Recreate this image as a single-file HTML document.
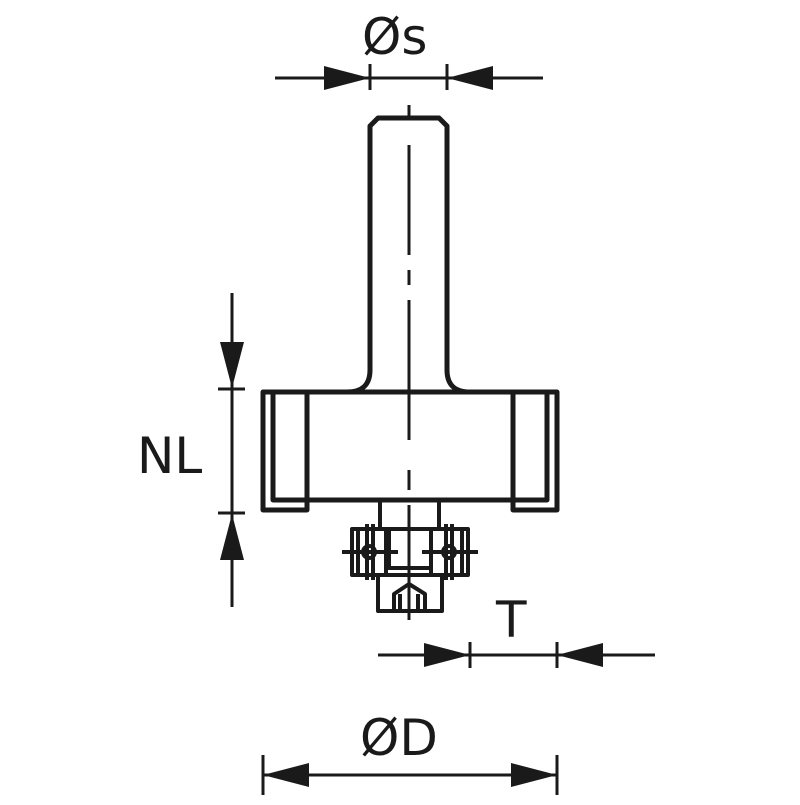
<!DOCTYPE html>
<html><head><style>html,body{margin:0;padding:0;background:#fff}</style></head>
<body>
<svg width="800" height="800" viewBox="0 0 800 800" xmlns="http://www.w3.org/2000/svg">
<g fill="none" stroke="#1a1a1a" stroke-width="5" stroke-linejoin="round">
<path d="M370,370 L370,126 L378,118 L439,118 L447,126 L447,370 Q447,392 470,392"/>
<path d="M370,370 Q370,392 347,392"/>
<path d="M307,392 L557,392 L557,510 L513,510 L513,392"/>
<path d="M263,392 L307,392 L307,510 L263,510 Z"/>
<path d="M273,392 L273,500 L547,500 L547,392"/>
<g stroke-width="4">
<path d="M380,500 L380,529 M439,500 L439,529"/>
<rect x="352" y="529" width="116" height="46"/>
<path d="M358,529 L358,575 M386,529 L386,575 M431,529 L431,575 M462,529 L462,575"/>
<path d="M389,529 L389,568 L431,568"/>
<path d="M342,552 L398,552 M422,552 L478,552"/>
<path d="M367,524 L367,580 M373,524 L373,580 M446,524 L446,580 M452,524 L452,580"/>
<circle cx="369" cy="552" r="6"/>
<circle cx="449" cy="552" r="6"/>
<rect x="378" y="575" width="64" height="36"/>
<path d="M394,610 L394,594 L409,584 L425,594 L425,610 M400,594 L400,610 M418,594 L418,610"/>
</g>
</g>
<g stroke="#1a1a1a" stroke-width="3">
<path d="M409,105 L409,120 M409,145 L409,255 M409,270 L409,285 M409,300 L409,440 M409,470 L409,490 M409,505 L409,620" />
</g>
<g stroke="#1a1a1a" stroke-width="3" fill="none">
<path d="M275,78 L543,78 M370,64 L370,90 M447,64 L447,90"/>
<path d="M232,293 L232,607 M218,389 L245,389 M218,513 L245,513"/>
<path d="M378,655 L655,655 M470,642 L470,668 M557,642 L557,668"/>
<path d="M263,775 L557,775 M263,755 L263,795 M557,755 L557,795"/>
</g>
<g fill="#1a1a1a">
<polygon points="370,78 324,66 324,90"/>
<polygon points="447,78 493,66 493,90"/>
<polygon points="232,388 220,342 244,342"/>
<polygon points="232,514 220,560 244,560"/>
<polygon points="470,655 424,643 424,667"/>
<polygon points="557,655 603,643 603,667"/>
<polygon points="263,775 309,763 309,787"/>
<polygon points="557,775 511,763 511,787"/>
</g>
<g font-family="DejaVu Sans, Liberation Sans, sans-serif" fill="#1a1a1a" font-size="50">
<text x="362" y="54">Øs</text>
<text x="137" y="473">NL</text>
<text x="496" y="637">T</text>
<text x="360" y="755">ØD</text>
</g>
</svg>
</body></html>
